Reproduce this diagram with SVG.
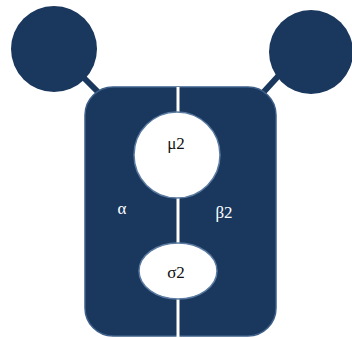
<svg xmlns="http://www.w3.org/2000/svg" width="352" height="338" viewBox="0 0 352 338">
<style>
.dark{fill:#1a375e}
.edge{stroke:#3d5f88;stroke-width:1.5}
.conn{stroke:#1a375e;stroke-width:6;fill:none}
.div{stroke:#ffffff;stroke-width:3;fill:none}
.hole{fill:#ffffff;stroke:#5a7aa0;stroke-width:1.5}
.lbl{font-family:"Liberation Serif","DejaVu Serif",serif;font-size:17px;text-anchor:middle}
.w{fill:#ffffff}
.k{fill:#111111}
</style>
<rect width="352" height="338" fill="#ffffff"/>
<g id="connectors">
<line class="conn" x1="80" y1="74" x2="102" y2="96"/>
<line class="conn" x1="282" y1="72" x2="260" y2="96"/>
</g>
<g id="node-left">
<circle class="dark" cx="54" cy="49" r="43"/>
</g>
<g id="node-right">
<circle class="dark" cx="311" cy="52" r="42"/>
</g>
<g id="plate">
<rect class="dark edge" x="85" y="87" width="191" height="249" rx="28"/>
<line class="div" x1="178" y1="87" x2="178" y2="338"/>
<text class="lbl w" x="122" y="214">α</text>
<text class="lbl w" x="224" y="218">β2</text>
</g>
<g id="node-mu">
<circle class="hole" cx="177" cy="155" r="43"/>
<text class="lbl k" x="176" y="149">μ2</text>
</g>
<g id="node-sigma">
<ellipse class="hole" cx="178" cy="271" rx="39" ry="28"/>
<text class="lbl k" x="176" y="278">σ2</text>
</g>
</svg>
